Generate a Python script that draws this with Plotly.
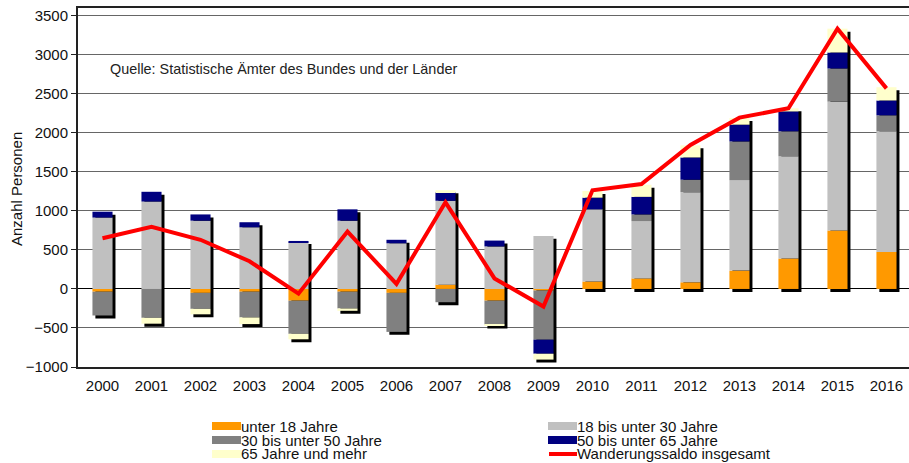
# Importing libraries
import plotly.graph_objects as go

# Years on the x axis
years = list(range(2000, 2017))

# Net migration per age group (persons)
unter_18 = [-35, 0, -50, -35, -150, -35, -50, 55, -150, -20, 95, 135, 85, 235, 390, 750, 475]
age_18_30 = [915, 1120, 875, 790, 600, 875, 585, 1075, 545, 680, 925, 735, 1155, 1160, 1310, 1650, 1545]
age_30_50 = [-305, -370, -205, -330, -425, -215, -500, -170, -305, -630, 0, 85, 160, 495, 320, 425, 205]
age_50_65 = [75, 125, 80, 65, 15, 145, 45, 110, 75, -180, 150, 225, 285, 215, 255, 205, 190]
age_65_plus = [0, -75, -70, -85, -70, -30, 0, 25, -15, -75, 85, 155, 155, 85, 40, 305, 170]

# Total net migration (red line)
saldo_total = [650, 795, 630, 355, -60, 735, 65, 1110, 135, -225, 1265, 1345, 1845, 2195, 2315, 3335, 2570]

# Tick labels
y_ticks = [-1000, -500, 0, 500, 1000, 1500, 2000, 2500, 3000, 3500]

# Series names and colours
series = [
    ("unter 18 Jahre", unter_18, "#FF9900"),
    ("18 bis unter 30 Jahre", age_18_30, "#C0C0C0"),
    ("30 bis unter 50 Jahre", age_30_50, "#808080"),
    ("50 bis unter 65 Jahre", age_50_65, "#000080"),
    ("65 Jahre und mehr", age_65_plus, "#FFFFCC"),
]
line_name = "Wanderungssaldo insgesamt"
line_color = "#FF0000"

bar_width = 0.41

# Plot area in pixels (used for the hand-made legend and notes)
W, H = 909, 463
M_L, M_R, M_T, M_B = 78, 0, 8, 96
plot_w = W - M_L - M_R
plot_h = H - M_T - M_B


def px_x(px):
    return (px - M_L) / plot_w


def px_y(py):
    return (H - M_B - py) / plot_h


# Work out the stacking bases (positives go up, negatives go down)
pos_acc = [0] * len(years)
neg_acc = [0] * len(years)
bases = []
for name, values, color in series:
    base = []
    for i, v in enumerate(values):
        if v >= 0:
            base.append(pos_acc[i])
            pos_acc[i] += v
        else:
            base.append(neg_acc[i])
            neg_acc[i] += v
    bases.append(base)

fig = go.Figure()

# Black drop shadow behind each stacked bar
shadow_dx = 0.06
shadow_dy = 38
fig.add_trace(go.Bar(
    x=[y + shadow_dx for y in years],
    y=[p - n for p, n in zip(pos_acc, neg_acc)],
    base=[n - shadow_dy for n in neg_acc],
    width=bar_width,
    marker=dict(color="black", line=dict(width=0)),
    showlegend=False,
    hoverinfo="skip",
))

# Stacked age group bars
for (name, values, color), base in zip(series, bases):
    fig.add_trace(go.Bar(
        x=years,
        y=values,
        base=base,
        name=name,
        width=bar_width,
        marker=dict(color=color, line=dict(width=0)),
    ))

# Total line
fig.add_trace(go.Scatter(
    x=years,
    y=saldo_total,
    mode="lines",
    name=line_name,
    line=dict(color=line_color, width=4),
))

# Source note
fig.add_annotation(
    text="Quelle: Statistische Ämter des Bundes und der Länder",
    xref="paper", yref="paper",
    x=px_x(108), y=px_y(69),
    xanchor="left", yanchor="middle",
    showarrow=False,
    font=dict(family="Liberation Sans", size=14.4, color="#222222"),
)

# Y axis title
fig.add_annotation(
    text="Anzahl Personen",
    xref="paper", yref="paper",
    x=px_x(17), y=px_y(189),
    xanchor="center", yanchor="middle",
    textangle=-90,
    showarrow=False,
    font=dict(family="Liberation Sans", size=15, color="#111111"),
)

# Legend in two columns below the chart (drawn by hand, the rows are tight)
legend_items = [(name, color, "bar") for name, values, color in series] + [(line_name, line_color, "line")]
col_x = [212, 548]
row_y = [426, 440, 454]
for k, (name, color, kind) in enumerate(legend_items):
    x0 = col_x[k % 2]
    yc = row_y[k // 2]
    if kind == "bar":
        fig.add_shape(type="rect", xref="paper", yref="paper",
                      x0=px_x(x0), x1=px_x(x0 + 29), y0=px_y(yc - 4), y1=px_y(yc + 4),
                      fillcolor=color, line=dict(width=0))
    else:
        fig.add_shape(type="line", xref="paper", yref="paper",
                      x0=px_x(x0 + 1), x1=px_x(x0 + 29), y0=px_y(yc), y1=px_y(yc),
                      line=dict(color=color, width=4))
    fig.add_annotation(
        text=name, xref="paper", yref="paper",
        x=px_x(x0 + 28), y=px_y(yc),
        xanchor="left", yanchor="middle",
        showarrow=False,
        borderpad=0,
        font=dict(family="Liberation Sans", size=15, color="#111111"),
    )

fig.update_layout(
    width=W,
    height=H,
    barmode="overlay",
    plot_bgcolor="white",
    paper_bgcolor="white",
    margin=dict(l=M_L, r=M_R, t=M_T, b=M_B),
    font=dict(family="Liberation Sans", size=15, color="#111111"),
    showlegend=False,
)

fig.update_xaxes(
    range=[1999.5, 2016.46],
    tickmode="array",
    tickvals=years,
    ticktext=[str(y) for y in years],
    showgrid=False,
    showline=True,
    linecolor="#222222",
    linewidth=2,
    mirror=True,
    ticks="outside",
    ticklen=4,
    tickcolor="rgba(0,0,0,0)",
    zeroline=False,
    automargin=False,
)

fig.update_yaxes(
    range=[-1000, 3600],
    tickmode="array",
    tickvals=y_ticks,
    showgrid=True,
    gridcolor="#666666",
    gridwidth=1,
    zeroline=True,
    zerolinecolor="#000000",
    zerolinewidth=1,
    showline=True,
    linecolor="#222222",
    linewidth=2,
    ticks="outside",
    ticklen=5,
    tickcolor="#222222",
    automargin=False,
)

# Save to HTML (drop the default page margin so the chart sits at the corner, no modebar)
fig.write_html(
    "out.html",
    config={"displayModeBar": False},
    post_script="document.body.style.margin='0';",
)
